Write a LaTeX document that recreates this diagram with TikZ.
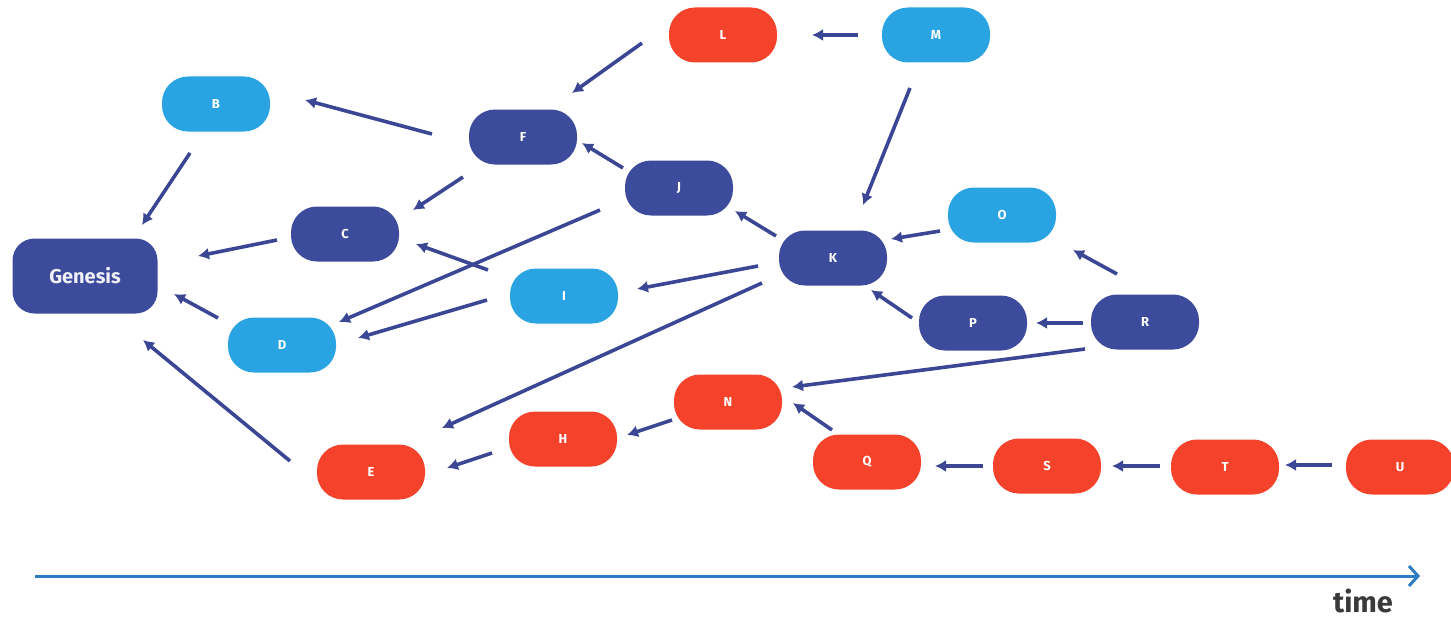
\documentclass[tikz,border=0pt]{standalone}
\usepackage{fontspec}
\setmainfont{Fira Sans}
\usetikzlibrary{arrows.meta}
\definecolor{dkblue}{HTML}{3D4B9C}
\definecolor{ltblue}{HTML}{29A3E2}
\definecolor{redn}{HTML}{F4432A}
\definecolor{arrc}{HTML}{3B4694}
\definecolor{axisc}{HTML}{2D7BC4}
\definecolor{timec}{HTML}{3A3A3A}
\begin{document}
\begin{tikzpicture}[x=1pt,y=-1pt,
  blk/.style={minimum width=108pt,minimum height=55pt,rounded corners=26pt,inner sep=0pt,text=white,font=\fontsize{13}{13}\selectfont\bfseries},
  dk/.style={blk,fill=dkblue},
  lt/.style={blk,fill=ltblue},
  rd/.style={blk,fill=redn},
  arr/.style={draw=arrc,line width=3.6pt,-{Latex[length=11pt,width=12pt]}}]
\useasboundingbox (0,0) rectangle (1451,618);
\clip (0,0) rectangle (1451,618);
\node[dk,minimum width=145pt,minimum height=75pt,rounded corners=22pt,font=\fontsize{20}{20}\selectfont\bfseries,text=white!92!dkblue] (G) at (85,276) {Genesis};
\node[lt] (B) at (216,104) {B};
\node[rd] (L) at (723,35) {L};
\node[lt] (M) at (936,35) {M};
\node[dk] (F) at (523,137) {F};
\node[dk] (J) at (679,188) {J};
\node[dk] (C) at (345,234) {C};
\node[lt] (D) at (282,345) {D};
\node[lt] (I) at (564,296) {I};
\node[dk] (K) at (833,258) {K};
\node[lt] (O) at (1002,215) {O};
\node[dk] (P) at (973,323) {P};
\node[dk] (R) at (1145,322) {R};
\node[rd] (N) at (728,402) {N};
\node[rd] (H) at (563,439) {H};
\node[rd] (E) at (371,472) {E};
\node[rd] (Q) at (867,462) {Q};
\node[rd] (S) at (1047,466) {S};
\node[rd] (T) at (1225,467) {T};
\node[rd] (U) at (1400,467) {U};
\draw[arr] ([shift={(-81,8)}]L.center) -- ([shift={(49,-44)}]F.center);
\draw[arr] ([shift={(-78,0)}]M.center) -- ([shift={(89,0)}]L.center);
\draw[arr] ([shift={(-91,-3)}]F.center) -- ([shift={(89,-4)}]B.center);
\draw[arr] ([shift={(-26,49)}]B.center) -- ([shift={(57,-51)}]G.center);
\draw[arr] ([shift={(-60,40)}]F.center) -- ([shift={(68,-24)}]C.center);
\draw[arr] ([shift={(-56,-20)}]J.center) -- ([shift={(59,6)}]F.center);
\draw[arr] ([shift={(-68,6)}]C.center) -- ([shift={(113,-20)}]G.center);
\draw[arr] ([shift={(-76,-26)}]I.center) -- ([shift={(71,10)}]C.center);
\draw[arr] ([shift={(-79,22)}]J.center) -- ([shift={(57,-23)}]D.center);
\draw[arr] ([shift={(-77,4)}]I.center) -- ([shift={(76,-7)}]D.center);
\draw[arr] ([shift={(-64,-27)}]D.center) -- ([shift={(89,18)}]G.center);
\draw[arr] ([shift={(-81,-11)}]E.center) -- ([shift={(58,64)}]G.center);
\draw[arr] ([shift={(-57,-22)}]K.center) -- ([shift={(56,23)}]J.center);
\draw[arr] ([shift={(-26,53)}]M.center) -- ([shift={(30,-53)}]K.center);
\draw[arr] ([shift={(-62,16)}]O.center) -- ([shift={(58,-19)}]K.center);
\draw[arr] ([shift={(-75,8)}]K.center) -- ([shift={(73,-7)}]I.center);
\draw[arr] ([shift={(-71,25)}]K.center) -- ([shift={(71,-44)}]E.center);
\draw[arr] ([shift={(-28,-48)}]R.center) -- ([shift={(71,35)}]O.center);
\draw[arr] ([shift={(-61,-5)}]P.center) -- ([shift={(38,32)}]K.center);
\draw[arr] ([shift={(-62,1)}]R.center) -- ([shift={(63,0)}]P.center);
\draw[arr] ([shift={(-60,27)}]R.center) -- ([shift={(64,-15)}]N.center);
\draw[arr] ([shift={(-56,18)}]N.center) -- ([shift={(64,-4)}]H.center);
\draw[arr] ([shift={(-71,14)}]H.center) -- ([shift={(76,-4)}]E.center);
\draw[arr] ([shift={(-35,-32)}]Q.center) -- ([shift={(65,1)}]N.center);
\draw[arr] ([shift={(-64,0)}]S.center) -- ([shift={(68,4)}]Q.center);
\draw[arr] ([shift={(-65,-1)}]T.center) -- ([shift={(65,0)}]S.center);
\draw[arr] ([shift={(-68,-2)}]U.center) -- ([shift={(60,-2)}]T.center);
\coordinate (t0) at (35,576);
\coordinate (t1) at (1420,576);
\draw[draw=axisc,line width=3pt,-{Straight Barb[length=9pt,width=20pt,line width=3pt]}] (t0) -- (t1);
\node[text=timec,font=\fontsize{29}{29}\selectfont\bfseries] (time) at (1363,601) {time};
\end{tikzpicture}
\end{document}
